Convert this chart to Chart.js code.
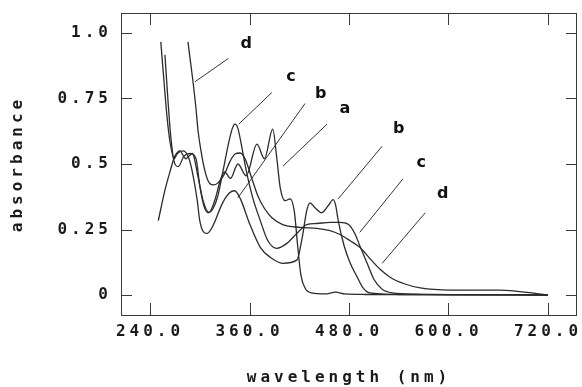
<!DOCTYPE html>
<html>
<head>
<meta charset="utf-8">
<script src="https://cdn.jsdelivr.net/npm/chart.js@4.4.1/dist/chart.umd.min.js"></script>
<style>
  html, body { margin: 0; padding: 0; background: #fff; }
</style>
</head>
<body>
<canvas id="spec" width="582" height="387"></canvas>
<script>
// spectrum a
const nmA = [250, 258, 264, 270, 276, 283, 291, 298, 304, 311, 318, 325, 330, 337, 346, 356, 369, 378, 388, 393, 397, 403, 409, 414, 418, 422, 427, 435, 451, 464, 475, 500, 600, 720];
const absA = [0.284, 0.40, 0.47, 0.53, 0.55, 0.52, 0.54, 0.45, 0.36, 0.315, 0.36, 0.44, 0.47, 0.445, 0.50, 0.455, 0.576, 0.52, 0.633, 0.52, 0.41, 0.36, 0.367, 0.32, 0.19, 0.076, 0.027, 0.008, 0.004, 0.011, 0.004, 0.002, 0.001, 0];

// spectrum b
const nmB = [253, 257, 260.5, 264, 269, 273, 280, 287, 292, 297, 300, 305, 309, 316, 327, 336, 342, 349, 360, 373, 385, 400, 417, 424, 429, 433, 439, 447, 455, 461, 464, 467, 474, 481, 490, 497, 505, 540, 720];
const absB = [0.966, 0.81, 0.68, 0.587, 0.52, 0.54, 0.55, 0.52, 0.455, 0.36, 0.284, 0.239, 0.235, 0.265, 0.348, 0.39, 0.398, 0.367, 0.273, 0.182, 0.144, 0.121, 0.133, 0.227, 0.322, 0.352, 0.333, 0.314, 0.341, 0.364, 0.341, 0.284, 0.189, 0.125, 0.068, 0.027, 0.008, 0.002, 0];

// spectrum c
const nmC = [258, 261.7, 265, 269, 274, 281, 288, 295.5, 300, 305, 310, 316, 322, 328, 334, 339, 342.5, 346, 351, 357, 364, 373, 382, 393, 405, 417, 429, 441, 457, 469, 479, 487, 494, 502, 510, 520, 532, 560, 720];
const absC = [0.917, 0.74, 0.606, 0.51, 0.49, 0.53, 0.54, 0.52, 0.417, 0.34, 0.314, 0.33, 0.38, 0.473, 0.568, 0.633, 0.652, 0.636, 0.56, 0.46, 0.37, 0.284, 0.208, 0.178, 0.197, 0.235, 0.269, 0.273, 0.277, 0.277, 0.27, 0.235, 0.18, 0.12, 0.06, 0.022, 0.008, 0.003, 0];

// spectrum d
const nmD = [285.8, 288, 292, 295.5, 298, 301.5, 305, 310, 316, 322, 330.5, 336.5, 342.5, 348.6, 354.6, 363, 370, 377.5, 387, 400, 421, 441.5, 457, 469, 481, 493, 505, 517.5, 529.5, 547.6, 566, 602, 662, 720];
const absD = [0.966, 0.91, 0.81, 0.71, 0.625, 0.55, 0.49, 0.436, 0.42, 0.428, 0.466, 0.51, 0.538, 0.542, 0.52, 0.443, 0.379, 0.333, 0.295, 0.269, 0.258, 0.254, 0.246, 0.231, 0.208, 0.182, 0.14, 0.098, 0.068, 0.042, 0.027, 0.019, 0.019, 0];

const xTicks = [240, 360, 480, 600, 720];
const yTicks = [0, 0.25, 0.5, 0.75, 1.0];
const yTickText = ['0', '0.25', '0.5', '0.75', '1.0'];

// curve labels with leader lines (in nm / absorbance)
const tags = [
  { t: 'd', x: 356, y: 0.958, from: [334.5, 0.903], to: [294.3, 0.814] },
  { t: 'c', x: 410, y: 0.833, from: [387, 0.773], to: [347, 0.652] },
  { t: 'b', x: 446, y: 0.769, from: [427, 0.731], to: [346, 0.371] },
  { t: 'a', x: 475, y: 0.712, from: [453.5, 0.652], to: [400.4, 0.492] },
  { t: 'b', x: 540, y: 0.633, from: [520, 0.568], to: [467, 0.367] },
  { t: 'c', x: 567, y: 0.504, from: [545, 0.443], to: [493, 0.239] },
  { t: 'd', x: 593, y: 0.386, from: [572, 0.314], to: [520, 0.121] }
];

const pts = (xs, ys) => xs.map((x, i) => ({ x: x, y: ys[i] }));

const monoFont = { family: '"DejaVu Sans Mono", monospace', size: 16, weight: 'bold' };
const ink = '#1a1a1a';

function series(xs, ys) {
  return {
    data: pts(xs, ys),
    borderColor: '#2b2b2b',
    borderWidth: 1.3,
    pointRadius: 0,
    fill: false,
    cubicInterpolationMode: 'monotone'
  };
}

// plotter-style wide lettering
const spacing = {
  id: 'spacing',
  beforeLayout(chart) { chart.ctx.letterSpacing = '4px'; },
  beforeDraw(chart) { chart.ctx.letterSpacing = '4px'; }
};

const frame = {
  id: 'frame',
  afterDatasetsDraw(chart) {
    const { ctx, chartArea: a, scales: { x, y } } = chart;
    ctx.save();
    ctx.letterSpacing = '0px';
    ctx.strokeStyle = '#3a3a3a';
    ctx.lineWidth = 1;
    ctx.strokeRect(a.left + 0.5, a.top + 0.5, a.right - a.left - 1, a.bottom - a.top);
    ctx.beginPath();
    xTicks.forEach(v => {
      const px = Math.round(x.getPixelForValue(v)) + 0.5;
      ctx.moveTo(px, a.bottom); ctx.lineTo(px, a.bottom - 12);
      ctx.moveTo(px, a.top); ctx.lineTo(px, a.top + 12);
    });
    yTicks.forEach(v => {
      const py = Math.round(y.getPixelForValue(v)) + 0.5;
      ctx.moveTo(a.left, py); ctx.lineTo(a.left + 11, py);
      ctx.moveTo(a.right, py); ctx.lineTo(a.right - 11, py);
    });
    ctx.stroke();

    // leader lines and letters
    ctx.strokeStyle = '#333';
    ctx.lineWidth = 1;
    ctx.beginPath();
    tags.forEach(g => {
      ctx.moveTo(x.getPixelForValue(g.from[0]), y.getPixelForValue(g.from[1]));
      ctx.lineTo(x.getPixelForValue(g.to[0]), y.getPixelForValue(g.to[1]));
    });
    ctx.stroke();
    ctx.fillStyle = '#111';
    ctx.font = 'bold 16px "DejaVu Sans", sans-serif';
    ctx.textAlign = 'center';
    ctx.textBaseline = 'middle';
    tags.forEach(g => {
      ctx.fillText(g.t, x.getPixelForValue(g.x), y.getPixelForValue(g.y));
    });
    ctx.restore();
  }
};

new Chart(document.getElementById('spec'), {
  type: 'line',
  data: {
    datasets: [series(nmA, absA), series(nmB, absB), series(nmC, absC), series(nmD, absD)]
  },
  options: {
    responsive: false,
    animation: false,
    layout: { padding: { left: 0, right: 5, top: 13, bottom: 0 } },
    plugins: { legend: { display: false }, tooltip: { enabled: false } },
    scales: {
      x: {
        type: 'linear',
        min: 205,
        max: 755,
        afterBuildTicks: s => { s.ticks = xTicks.map(v => ({ value: v })); },
        afterFit: s => { s.height = 72; s.paddingLeft = 0; s.paddingRight = 0; },
        grid: { display: false, drawTicks: false },
        border: { display: false },
        ticks: {
          padding: 7,
          color: ink,
          font: monoFont,
          maxRotation: 0,
          autoSkip: false,
          callback: v => v.toFixed(1)
        },
        title: {
          display: true,
          text: 'wavelength (nm)',
          color: ink,
          font: monoFont,
          padding: { top: 0, bottom: 0 }
        }
      },
      y: {
        min: -0.0763,
        max: 1.0763,
        afterBuildTicks: s => { s.ticks = yTicks.map(v => ({ value: v })); },
        afterFit: s => { s.width = 121; s.paddingTop = 0; s.paddingBottom = 0; },
        grid: { display: false, drawTicks: false },
        border: { display: false },
        ticks: {
          padding: 9,
          color: ink,
          font: monoFont,
          autoSkip: false,
          callback: v => yTickText[yTicks.indexOf(v)]
        },
        title: {
          display: true,
          text: 'absorbance',
          color: ink,
          font: monoFont,
          padding: { top: 8, bottom: 0 }
        }
      }
    }
  },
  plugins: [spacing, frame]
});
</script>
</body>
</html>
